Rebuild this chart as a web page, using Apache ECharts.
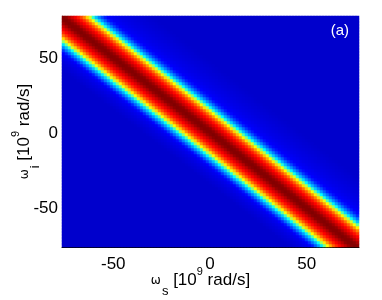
<!DOCTYPE html>
<html>
<head>
<meta charset="utf-8">
<script src="https://cdn.jsdelivr.net/npm/echarts@6/dist/echarts.min.js"></script>
<style>
html,body{margin:0;padding:0;background:#fff;}
#c{width:382px;height:300px;}
</style>
</head>
<body>
<div id="c"></div>
<script>
// ---- data ----
// axis ranges (10^9 rad/s)
const omegaSRange = [-76.5, 77];
const omegaIRange = [-76, 78.5];
const tickValues = [-50, 0, 50];
// ridge (centre of the dark-red band): omega_i at given omega_s
const ridgeOmegaS = [-76.5, 0, 77];
const ridgeOmegaI = [77.5, 1, -77.5];
// cross-section of the band: vertical offset from the ridge (10^9 rad/s) -> normalised level
const profileOffset = [-35, -29, -25, -22, -19.5, -17.7, -16.5, -15.5, -14.5, -13, -11.5, -9.5, -7, -4.5, -2.5, 0, 2.5, 4.5, 7, 9.5, 11.5, 13, 14.5, 15.5, 16.5, 17.7, 19.5, 22, 25, 30, 38, 48];
const profileLevel  = [0, 0.04, 0.08, 0.15, 0.25, 0.32, 0.4, 0.5, 0.6, 0.68, 0.76, 0.83, 0.89, 0.94, 0.985, 1, 0.985, 0.94, 0.89, 0.83, 0.76, 0.68, 0.6, 0.5, 0.4, 0.32, 0.25, 0.16, 0.11, 0.07, 0.035, 0];
// jet colour map
const jetColors = ['#0000cc', '#0000ff', '#0080ff', '#00ffff', '#80ff80', '#ffff00', '#ff8000', '#ff0000', '#800000'];
const panelLabel = '(a)';

// ---- build grid cells (sampling resolution of the image) ----
function lerp(xs, ys, x) {
  if (x <= xs[0]) return ys[0];
  if (x >= xs[xs.length - 1]) return ys[ys.length - 1];
  for (let k = 0; k < xs.length - 1; k++) {
    if (x >= xs[k] && x <= xs[k + 1]) {
      const t = (x - xs[k]) / (xs[k + 1] - xs[k]);
      return ys[k] + t * (ys[k + 1] - ys[k]);
    }
  }
  return ys[ys.length - 1];
}
const nCols = 99, nRows = 77;
const sStep = (omegaSRange[1] - omegaSRange[0]) / nCols;
const iStep = (omegaIRange[1] - omegaIRange[0]) / nRows;
const sCats = [], iCats = [];
for (let k = 0; k < nCols; k++) sCats.push(omegaSRange[0] + (k + 0.5) * sStep);
for (let k = 0; k < nRows; k++) iCats.push(omegaIRange[0] + (k + 0.5) * iStep);
const cells = [];
sCats.forEach((ws, a) => {
  const ridge = lerp(ridgeOmegaS, ridgeOmegaI, ws);
  iCats.forEach((wi, b) => {
    cells.push([a, b, lerp(profileOffset, profileLevel, wi - ridge)]);
  });
});

const font = 'Liberation Sans, Arial, Helvetica, sans-serif';
const nameRich = {
  w: {fontSize: 12, color: '#000', fontFamily: 'DejaVu Sans', verticalAlign: 'middle', padding: [2, 0, 0, 0]},
  sub: {fontSize: 13, lineHeight: 36, color: '#000', fontFamily: font, verticalAlign: 'bottom', padding: [0, 0, 0, 1]},
  t: {fontSize: 17, color: '#000', fontFamily: font, verticalAlign: 'middle'},
  sup: {fontSize: 11, color: '#000', fontFamily: font, verticalAlign: 'top', padding: [4, 0, 0, 0]}
};
const chart = echarts.init(document.getElementById('c'), null, {renderer: 'canvas'});
chart.setOption({
  animation: false,
  backgroundColor: '#ffffff',
  title: {
    text: panelLabel, right: 28, top: 18,
    textStyle: {color: '#ffffff', fontSize: 15, fontWeight: 'normal', fontFamily: font}
  },
  grid: {left: 62, top: 16, right: 23, bottom: 53, containLabel: false, outerBoundsMode: 'none'},
  visualMap: {
    show: false, min: 0, max: 1, dimension: 2, seriesIndex: 0,
    inRange: {color: jetColors}
  },
  xAxis: [
    {type: 'category', data: sCats, show: false, boundaryGap: true},
    {
      type: 'value', position: 'bottom', min: omegaSRange[0], max: omegaSRange[1],
      axisLine: {show: true, onZero: false, lineStyle: {color: '#000', width: 1}},
      axisTick: {show: false}, splitLine: {show: false},
      axisLabel: {customValues: tickValues, fontSize: 17, color: '#000', margin: 9, fontFamily: font},
      name: '{w|ω}{sub|s}{t| [10}{sup|9}{t| rad/s]}',
      nameLocation: 'middle', nameGap: 15, nameMoveOverlap: false,
      nameTextStyle: {color: '#000', fontFamily: font, rich: nameRich, padding: [0, 20, 0, 0]}
    }
  ],
  yAxis: [
    {type: 'category', data: iCats, show: false, boundaryGap: true},
    {
      type: 'value', position: 'left', min: omegaIRange[0], max: omegaIRange[1],
      axisLine: {show: true, onZero: false, lineStyle: {color: '#888', width: 1}},
      axisTick: {show: false}, splitLine: {show: false},
      axisLabel: {customValues: tickValues, fontSize: 17, color: '#000', margin: 4, fontFamily: font},
      name: '{w|ω}{sub|i}{t| [10}{sup|9}{t| rad/s]}',
      nameLocation: 'middle', nameGap: 20, nameRotate: 90, nameMoveOverlap: false,
      nameTextStyle: {color: '#000', fontFamily: font, rich: nameRich}
    }
  ],
  series: [{
    type: 'heatmap', xAxisIndex: 0, yAxisIndex: 0,
    data: cells, progressive: 0, emphasis: {disabled: true}, silent: true
  }]
});
</script>
</body>
</html>
